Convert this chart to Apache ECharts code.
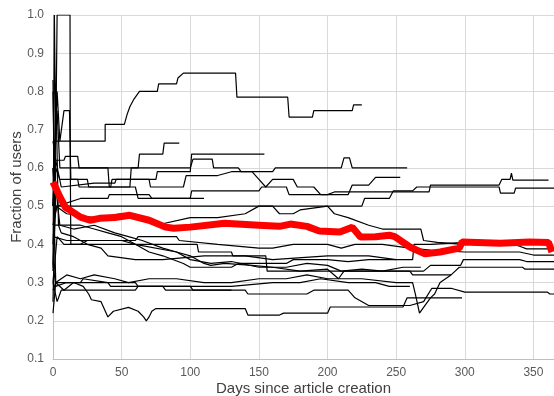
<!DOCTYPE html>
<html>
<head>
<meta charset="utf-8">
<script src="https://cdn.jsdelivr.net/npm/echarts@6/dist/echarts.min.js"></script>
<style>
  html, body { margin: 0; padding: 0; background: #fff; }
  #chart { width: 554px; height: 396px; }
</style>
</head>
<body>
<div id="chart"></div>
<script>
// axis ticks
const xTicks = [0, 50, 100, 150, 200, 250, 300, 350]
const yTicks = [0.1, 0.2, 0.3, 0.4, 0.5, 0.6, 0.7, 0.8, 0.9, 1.0]

// average over all articles (red)
const average = [[0,0.563],[3,0.54],[5,0.524],[9,0.497],[12,0.49],[20,0.471],[27,0.463],[34,0.468],[45,0.47],[56,0.476],[70,0.463],[82,0.445],[88,0.442],[100,0.445],[125,0.455],[150,0.45],[165,0.447],[173,0.453],[185,0.447],[194,0.435],[209,0.432],[218,0.445],[224,0.419],[235,0.42],[245,0.424],[249,0.42],[260,0.393],[271,0.375],[282,0.38],[296,0.39],[298,0.406],[326,0.403],[347,0.406],[361,0.405],[363.5,0.38]]

// individual articles (black)
const art1 = [[0,0.5],[1,0.67],[38,0.67],[38,0.714],[52,0.714],[54,0.74],[56,0.76],[59,0.78],[63,0.8],[76,0.8],[77,0.82],[90,0.82],[91,0.835],[95,0.848],[133,0.848],[134,0.785],[171,0.785],[172,0.733],[189,0.733],[190,0.75],[218,0.75],[219,0.765],[225,0.765]]
const art2 = [[0,0.33],[1,1.0],[2,0.67],[3,1.0],[12.4,1.0],[12.6,0.6],[13,0.4],[105,0.4],[106,0.38],[130,0.38],[131,0.37],[155,0.37],[156,0.33],[260,0.33],[262,0.32],[290,0.32]]
const art3 = [[0,0.8],[1,0.6],[3,0.75],[5,0.6],[62,0.6],[63,0.636],[80,0.636],[81,0.665],[92,0.665]]
const art4 = [[0,0.5],[2,0.62],[6,0.55],[30,0.56],[45,0.56],[46,0.57],[75,0.57],[76,0.59],[100,0.59],[101,0.636],[154,0.636]]
const art5 = [[0,0.67],[2,0.62],[8,0.62],[9,0.63],[18,0.63],[19,0.6],[40,0.6],[41,0.55],[56,0.55],[57,0.6],[100,0.6],[102,0.623],[116,0.623],[117,0.6],[135,0.6],[137,0.59],[160,0.59],[162,0.6],[210,0.6],[212,0.626],[216,0.626],[218,0.6],[258,0.6]]
const art6 = [[0,0.25],[2,0.6],[5,0.57],[18,0.57],[19,0.55],[42,0.55],[43,0.57],[70,0.57],[71,0.55],[95,0.55],[97,0.58],[120,0.58],[130,0.59],[145,0.59],[150,0.57],[155,0.55],[160,0.57],[175,0.57],[178,0.55],[190,0.55],[195,0.53],[215,0.53],[218,0.555],[230,0.555],[235,0.575],[253,0.575]]
const art7 = [[0,0.45],[3,0.5],[20,0.52],[40,0.52],[41,0.53],[70,0.53],[72,0.52],[100,0.52],[101,0.54],[150,0.54],[152,0.55],[170,0.55],[172,0.53],[200,0.53],[205,0.537],[274,0.537],[275,0.555],[325,0.555],[327,0.57],[333,0.57],[334,0.586],[335,0.568],[361,0.568]]
const art8 = [[0,0.6],[2,0.5],[225,0.5],[227,0.52],[245,0.52],[248,0.54],[262,0.54],[265,0.55],[325,0.55],[326,0.534],[336,0.534],[337,0.547],[365,0.547]]
const art9 = [[0,0.35],[2,0.5],[10,0.48],[30,0.47],[50,0.48],[60,0.47],[75,0.45],[100,0.47],[120,0.47],[140,0.48],[150,0.5],[160,0.5],[165,0.48],[175,0.48],[180,0.49],[200,0.5],[205,0.48],[215,0.47],[230,0.45],[240,0.44],[268,0.44],[270,0.41],[280,0.405],[300,0.4],[320,0.4]]
const art10 = [[0,0.45],[20,0.45],[30,0.44],[40,0.43],[50,0.42],[60,0.4],[70,0.38],[80,0.37],[95,0.35],[100,0.34],[130,0.34],[135,0.35],[170,0.35],[175,0.36],[200,0.36],[215,0.355],[230,0.36],[262,0.36],[263,0.4],[275,0.4],[300,0.405],[330,0.405],[340,0.395],[345,0.388],[365,0.388]]
const art11 = [[0,0.42],[10,0.41],[50,0.41],[60,0.4],[90,0.38],[100,0.37],[110,0.35],[115,0.345],[125,0.35],[145,0.345],[160,0.34],[180,0.33],[200,0.335],[208,0.31],[212,0.33],[250,0.33],[270,0.33],[275,0.345],[297,0.345],[299,0.36],[340,0.36],[345,0.355],[365,0.355]]
const art12 = [[0,0.3],[3,0.42],[8,0.4],[20,0.4],[25,0.41],[60,0.41],[62,0.42],[90,0.42],[92,0.41],[120,0.4],[150,0.39],[160,0.39],[175,0.4],[200,0.4],[210,0.39],[220,0.4],[240,0.4],[260,0.39],[275,0.385],[300,0.38],[340,0.38],[350,0.372],[365,0.372]]
const art13 = [[0,0.28],[2,0.3],[10,0.32],[20,0.31],[30,0.32],[45,0.31],[55,0.3],[70,0.31],[90,0.31],[110,0.3],[130,0.3],[150,0.31],[170,0.31],[185,0.32],[200,0.31],[225,0.31],[250,0.3],[262,0.3],[264,0.27],[267,0.22],[270,0.235],[275,0.26],[278,0.27],[282,0.3],[286,0.31],[290,0.32],[293,0.33],[296,0.34],[342,0.34],[344,0.335],[365,0.335]]
const art14 = [[0,0.35],[2,0.29],[10,0.3],[40,0.3],[42,0.29],[80,0.29],[82,0.28],[140,0.28],[142,0.27],[185,0.27],[190,0.28],[215,0.28],[220,0.26],[230,0.24],[260,0.24],[270,0.25],[276,0.285],[290,0.285],[300,0.275],[360,0.275],[362,0.27],[365,0.27]]
const art15 = [[0,0.22],[2,0.3],[8,0.28],[15,0.3],[22,0.29],[26,0.27],[28,0.255],[35,0.25],[40,0.21],[44,0.225],[55,0.235],[62,0.225],[66,0.21],[68,0.2],[70,0.21],[72,0.225],[75,0.232],[140,0.232],[142,0.215],[165,0.215],[168,0.22],[200,0.22],[202,0.236],[255,0.236],[258,0.26],[298,0.26]]
const art16 = [[0,0.3],[3,0.25],[6,0.28],[60,0.28],[62,0.29],[100,0.29],[102,0.28],[130,0.28]]
const art17 = [[0,0.83],[1,0.5],[2,0.82],[4,0.45],[6,0.43],[15,0.42],[25,0.4],[35,0.39],[40,0.37],[60,0.36],[80,0.36],[110,0.37],[140,0.37],[160,0.36],[200,0.37],[230,0.37],[250,0.36]]
const art18 = [[0,0.5],[3,0.8],[5,0.67],[8,0.75],[12,0.75],[13,0.57],[25,0.57],[26,0.55],[60,0.55],[62,0.52],[110,0.52]]
const art19 = [[0,0.4],[2,0.55],[5,0.45],[15,0.44],[30,0.45],[45,0.43],[55,0.42],[65,0.41],[80,0.39],[90,0.38],[100,0.36],[115,0.35],[130,0.355],[150,0.34],[170,0.34],[185,0.35],[200,0.345],[210,0.33],[225,0.335],[240,0.33],[255,0.34],[268,0.34]]
const art20 = [[0,0.6],[2,0.3],[5,0.3],[20,0.3],[22,0.31],[40,0.3],[60,0.3],[62,0.29],[100,0.29],[130,0.29],[160,0.3],[180,0.3],[195,0.31],[215,0.3],[235,0.3],[245,0.29],[260,0.29]]

const articles = [art1, art2, art3, art4, art5, art6, art7, art8, art9, art10, art11, art12, art13, art14, art15, art16, art17, art18, art19, art20]

const chart = echarts.init(document.getElementById("chart"))

const series = articles.map(function (d) {
  return {
    type: "line",
    data: d,
    symbol: "none",
    lineStyle: { color: "#000000", width: 1.2 },
    silent: true,
    z: 2
  }
})
series.push({
  type: "line",
  data: average,
  symbol: "none",
  lineStyle: { color: "#ff0000", width: 7 },
  silent: true,
  z: 3
})

chart.setOption({
  animation: false,
  grid: { left: 53, right: 0, top: 15, bottom: 37, containLabel: false, outerBoundsMode: "none" },
  xAxis: {
    type: "value",
    min: 0,
    max: 365,
    interval: 50,
    name: "Days since article creation",
    nameLocation: "middle",
    nameGap: 22,
    nameMoveOverlap: false,
    nameTextStyle: { fontSize: 15, color: "#404040", fontFamily: "Liberation Sans" },
    axisLine: { lineStyle: { color: "#bfbfbf" } },
    axisTick: { show: false },
    axisLabel: {
      fontSize: 12,
      color: "#595959",
      fontFamily: "Liberation Sans",
      margin: 8,
      showMaxLabel: false,
      formatter: function (v) { return xTicks.indexOf(v) >= 0 ? String(v) : "" }
    },
    splitLine: { lineStyle: { color: "#d9d9d9" } }
  },
  yAxis: {
    type: "value",
    min: 0.1,
    max: 1.0,
    interval: 0.1,
    name: "Fraction of users",
    nameLocation: "middle",
    nameGap: 29,
    nameMoveOverlap: false,
    nameTextStyle: { fontSize: 15, color: "#404040", fontFamily: "Liberation Sans" },
    axisLine: { show: true, lineStyle: { color: "#bfbfbf" } },
    axisTick: { show: false },
    axisLabel: {
      fontSize: 12,
      color: "#595959",
      fontFamily: "Liberation Sans",
      margin: 9,
      formatter: function (v) { return v.toFixed(1) }
    },
    splitLine: { lineStyle: { color: "#d9d9d9" } }
  },
  series: series
})
</script>
</body>
</html>
